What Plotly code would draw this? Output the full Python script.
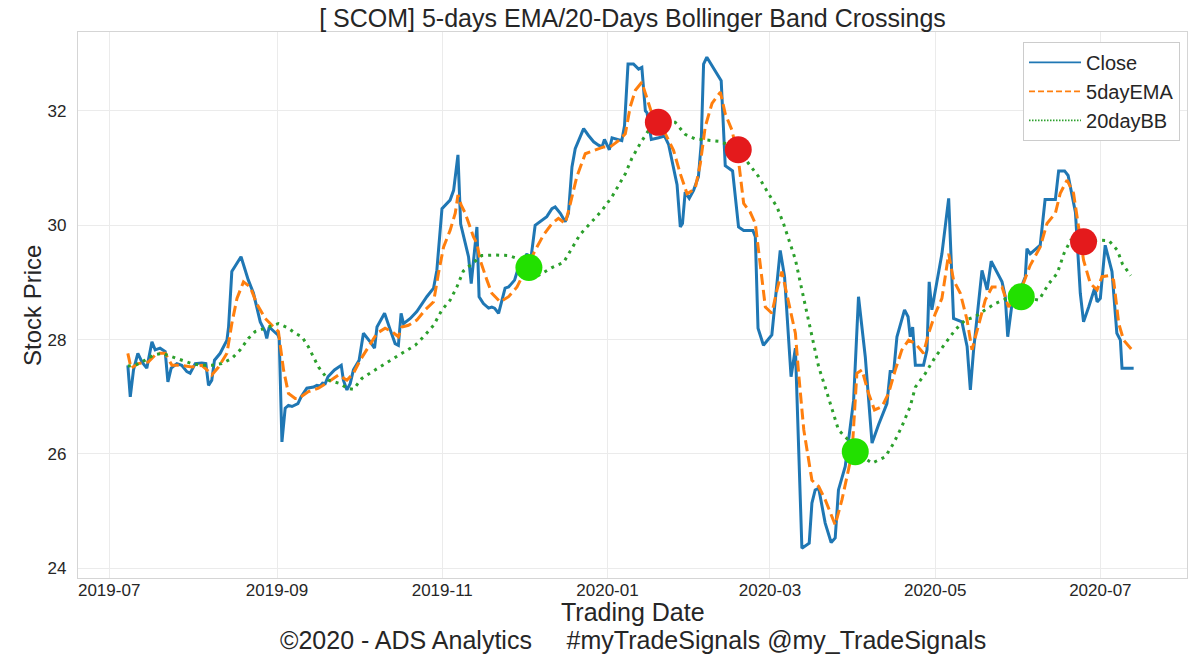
import pandas as pd
import plotly.graph_objects as go

START = pd.Timestamp("2019-07-01")

# ---- data (day offsets from START, price) ----
close_day = [6.9, 7.8, 9.0, 10.6, 12.1, 13.9, 15.8, 17.0, 18.8, 20.7, 21.7, 22.9, 25.0, 26.8, 28.7, 29.9,
             31.8, 34.2, 35.7, 36.7, 37.9, 38.9, 41.0, 43.5, 44.1, 45.3, 48.7, 51.4, 53.3, 55.8, 57.6, 58.2,
             59.1, 62.3, 62.8, 63.8, 65.0, 66.2, 67.5, 69.7, 70.9, 73.0, 75.5, 76.7, 77.9, 78.8, 79.8, 80.8,
             83.2, 84.5, 85.7, 86.5, 87.8, 89.0, 90.2, 92.3, 93.9, 96.4, 98.0, 98.9, 101.7, 103.8, 105.6,
             106.8, 107.8, 108.7, 111.2, 113.6, 115.5, 117.3, 119.8, 121.0, 122.9, 124.1, 125.9, 127.2,
             128.8, 129.8, 130.8, 132.7, 133.7, 134.5, 135.8, 136.6, 138.2, 140.1, 141.3, 142.3, 143.8,
             146.2, 147.5, 149.7, 151.2, 154.3, 155.5, 157.3, 160.0, 161.6, 163.5, 164.7, 166.6, 168.4,
             169.6, 170.9, 172.1, 175.2, 177.0, 178.9, 180.7, 182.0, 182.9, 184.7, 185.7, 187.5, 189.3,
             190.3, 191.6, 193.6, 195.5, 196.7, 198.0, 198.6, 200.2, 202.9, 205.1, 206.6, 209.7, 210.9,
             211.7, 212.7, 214.2, 215.8, 217.6, 218.6, 219.5, 220.7, 223.5, 226.0, 227.5, 230.2, 232.4,
             234.3, 237.7, 238.6, 239.6, 241.6, 244.7, 247.8, 249.4, 251.8, 253.4, 255.8, 258.5, 259.5,
             260.7, 262.0, 264.4, 266.6, 268.1, 269.3, 271.8, 274.9, 276.7, 279.2, 281.7, 284.1, 287.2,
             288.4, 289.7, 290.9, 293.7, 295.0, 295.8, 296.7, 297.7, 300.7, 302.0, 302.8, 303.8, 307.5,
             310.0, 311.8, 314.9, 316.8, 318.0, 319.2, 322.3, 324.2, 325.7, 329.7, 330.9, 331.8, 333.4,
             336.4, 338.3, 338.9, 340.1, 343.8, 345.6, 349.4, 350.6, 352.8, 354.1, 356.8, 358.6, 359.8,
             361.7, 363.9, 364.8, 366.0, 367.8, 370.3, 372.1, 373.4, 374.0, 378.3]
close_val = [27.55, 27.00, 27.47, 27.76, 27.61, 27.50, 27.96, 27.82, 27.85, 27.79, 27.26, 27.50, 27.58,
             27.55, 27.44, 27.41, 27.58, 27.59, 27.58, 27.20, 27.29, 27.64, 27.76, 27.99, 28.22, 29.19,
             29.45, 29.04, 28.81, 28.31, 28.14, 28.02, 28.22, 28.08, 28.02, 26.21, 26.80, 26.85, 26.83,
             26.88, 27.00, 27.15, 27.17, 27.20, 27.19, 27.24, 27.23, 27.35, 27.47, 27.52, 27.55, 27.29,
             27.12, 27.23, 27.47, 27.64, 28.11, 27.96, 27.85, 28.22, 28.46, 28.17, 27.93, 27.90, 28.46,
             28.28, 28.37, 28.49, 28.63, 28.75, 28.90, 29.21, 30.29, 30.35, 30.44, 30.61, 31.23, 30.02,
             29.81, 29.45, 28.98, 29.33, 29.97, 28.75, 28.63, 28.55, 28.57, 28.55, 28.46, 28.90, 28.92,
             29.04, 29.27, 29.50, 29.33, 30.00, 30.09, 30.15, 30.29, 30.32, 30.21, 30.06, 30.21, 31.02,
             31.34, 31.69, 31.57, 31.46, 31.40, 31.37, 31.50, 31.32, 31.53, 31.51, 31.48, 31.74, 32.82,
             32.82, 32.73, 32.76, 32.00, 31.97, 31.50, 31.53, 31.56, 31.41, 30.71, 29.97, 30.03, 30.58,
             30.47, 30.61, 30.85, 31.42, 32.82, 32.94, 32.73, 32.53, 31.04, 30.95, 29.97, 29.91, 29.91,
             29.80, 28.20, 27.90, 28.08, 29.56, 29.10, 27.35, 27.85, 24.35, 24.44, 25.14, 25.37, 25.40,
             24.79, 24.45, 24.53, 25.37, 25.78, 26.94, 28.75, 27.70, 26.19, 26.51, 26.88, 27.44, 27.44,
             28.05, 28.52, 28.40, 28.05, 28.22, 27.55, 27.55, 27.82, 29.01, 28.52, 29.50, 30.47, 28.37,
             28.31, 27.88, 27.12, 27.82, 29.21, 28.87, 29.37, 29.01, 28.75, 28.05, 28.63, 28.87, 29.10,
             29.59, 29.50, 29.65, 30.45, 30.45, 30.95, 30.95, 30.87, 30.23, 28.81, 28.31, 28.57, 28.90,
             28.66, 28.72, 29.65, 29.19, 28.11, 27.99, 27.50, 27.50]

ema_day = [6.9, 8.1, 10.8, 14.5, 17.6, 20.7, 23.2, 26.8, 30.5, 34.2, 36.1, 37.9, 40.4, 43.5, 45.3, 47.2,
           49.6, 52.1, 54.5, 57.6, 60.1, 62.5, 64.4, 66.2, 68.7, 69.9, 73.6, 77.3, 81.0, 84.7, 87.8, 90.2,
           92.7, 95.8, 98.9, 101.9, 104.4, 106.8, 108.1, 110.5, 113.6, 116.7, 119.8, 121.6, 123.5, 125.9,
           127.8, 128.8, 130.0, 131.5, 132.7, 134.5, 135.8, 137.0, 139.5, 141.3, 144.4, 147.5, 150.6,
           153.6, 157.3, 160.4, 163.5, 165.9, 168.4, 170.3, 172.7, 175.8, 179.5, 182.6, 185.0, 188.1,
           190.6, 192.4, 194.3, 196.7, 199.2, 201.6, 205.4, 208.4, 210.9, 213.4, 216.4, 218.3, 220.1,
           222.6, 225.7, 227.5, 230.0, 232.4, 234.3, 236.7, 238.6, 240.4, 242.3, 244.7, 246.6, 248.4,
           250.9, 253.4, 254.6, 256.5, 259.5, 262.0, 264.4, 268.1, 270.6, 274.3, 276.1, 278.0, 280.4,
           282.6, 285.4, 287.8, 290.3, 292.7, 295.2, 297.7, 300.7, 302.6, 305.1, 307.5, 310.0, 311.8,
           314.3, 316.8, 318.6, 321.1, 323.5, 326.0, 329.7, 332.1, 337.1, 340.1, 343.8, 346.3, 349.4,
           351.2, 353.7, 356.1, 358.0, 359.8, 362.3, 364.8, 366.6, 369.1, 370.9, 372.8, 374.6, 377.7]
ema_val = [27.76, 27.50, 27.58, 27.61, 27.76, 27.76, 27.55, 27.55, 27.52, 27.55, 27.47, 27.38, 27.52,
           27.76, 28.28, 28.72, 29.01, 28.92, 28.63, 28.37, 28.25, 28.14, 27.47, 27.06, 26.97, 26.97,
           27.09, 27.15, 27.26, 27.38, 27.29, 27.41, 27.64, 27.87, 28.11, 28.20, 28.14, 28.05, 28.22,
           28.25, 28.34, 28.52, 28.66, 29.16, 29.62, 29.91, 30.21, 30.53, 30.35, 30.21, 30.03, 29.80,
           29.68, 29.39, 29.04, 28.81, 28.66, 28.75, 28.92, 29.22, 29.56, 29.83, 30.03, 30.12, 30.03,
           30.38, 30.85, 31.25, 31.31, 31.37, 31.37, 31.48, 31.60, 32.07, 32.36, 32.50, 32.13, 31.78,
           31.60, 31.31, 30.90, 30.55, 30.64, 31.08, 31.72, 32.13, 32.33, 31.95, 31.66, 31.13, 30.38,
           30.23, 30.03, 29.27, 28.57, 28.46, 28.87, 29.19, 28.63, 28.11, 27.40, 26.42, 25.54, 25.43,
           25.20, 24.76, 25.20, 26.01, 27.41, 27.47, 27.06, 26.77, 26.83, 27.06, 27.47, 27.82, 27.99,
           27.93, 27.76, 28.11, 28.46, 28.72, 29.50, 29.04, 28.81, 28.34, 27.82, 28.28, 28.69, 28.92,
           28.92, 28.57, 28.92, 29.30, 29.62, 30.03, 30.21, 30.56, 30.79, 30.56, 29.97, 29.39, 28.98,
           28.87, 29.10, 29.12, 29.04, 28.28, 27.99, 27.82]

bb_day = [6.9, 9.6, 13.3, 16.4, 19.5, 23.2, 26.8, 30.5, 34.2, 37.9, 41.6, 45.3, 48.4, 51.4, 53.9, 57.6,
          62.5, 66.2, 68.7, 71.2, 73.6, 77.3, 81.0, 85.3, 87.8, 90.2, 93.3, 98.2, 103.2, 108.1, 113.0,
          116.7, 119.8, 122.9, 125.9, 128.4, 130.8, 134.5, 137.6, 142.6, 147.5, 151.2, 154.3, 158.5,
          163.5, 167.8, 170.9, 173.9, 177.6, 182.0, 185.7, 188.7, 190.6, 193.0, 196.1, 199.2, 202.9,
          209.0, 212.7, 216.4, 220.1, 225.0, 228.7, 232.4, 236.1, 239.8, 243.5, 246.6, 249.0, 251.5,
          253.4, 255.2, 257.1, 259.5, 262.0, 264.4, 266.9, 269.3, 272.4, 275.5, 281.7, 286.6, 289.7,
          292.7, 295.8, 297.7, 301.4, 305.1, 308.7, 312.4, 316.1, 319.8, 323.5, 327.2, 331.5, 337.1,
          343.3, 347.0, 350.1, 352.6, 355.1, 360.0, 365.5, 369.2, 372.3, 374.1, 377.2]
bb_val = [27.54, 27.55, 27.64, 27.73, 27.76, 27.70, 27.64, 27.58, 27.55, 27.55, 27.58, 27.67, 27.82,
          28.02, 28.14, 28.20, 28.28, 28.20, 28.11, 28.05, 27.87, 27.52, 27.29, 27.23, 27.15, 27.13,
          27.32, 27.47, 27.61, 27.76, 27.90, 28.08, 28.25, 28.52, 28.69, 28.92, 29.20, 29.35, 29.47,
          29.48, 29.47, 29.41, 29.26, 29.12, 29.26, 29.35, 29.61, 29.84, 30.03, 30.26, 30.50, 30.73,
          30.90, 31.17, 31.43, 31.66, 31.81, 31.80, 31.59, 31.51, 31.49, 31.47, 31.41, 31.32, 31.08,
          30.85, 30.55, 30.32, 30.03, 29.68, 29.40, 29.00, 28.57, 28.05, 27.52, 27.17, 26.77, 26.42,
          26.27, 26.04, 25.84, 25.95, 26.19, 26.48, 26.83, 27.17, 27.41, 27.70, 27.93, 28.17, 28.34,
          28.40, 28.52, 28.63, 28.72, 28.75, 28.69, 28.98, 29.16, 29.51, 29.74, 29.71, 29.74, 29.73,
          29.56, 29.33, 29.12]

buy_day = [155.0, 275.5, 336.8]
buy_val = [29.26, 26.04, 28.75]
sell_day = [202.8, 232.3, 359.8]
sell_val = [31.80, 31.32, 29.71]

series_names = ["Close", "5dayEMA", "20dayBB"]


def to_dates(days):
    return START + pd.to_timedelta(days, unit="D")


FONT = "Liberation Sans, Arial, sans-serif"
TXT = "#262626"
COLORS = ["#1f77b4", "#ff7f0e", "#2ca02c"]
DASHES = ["solid", "11px,5px", "3px,5px"]

fig = go.Figure()
for name, days, vals, col, dash in zip(series_names, [close_day, ema_day, bb_day],
                                        [close_val, ema_val, bb_val], COLORS, DASHES):
    fig.add_trace(go.Scatter(x=to_dates(days), y=vals, mode="lines", name=name,
                             showlegend=False, line=dict(color=col, width=3, dash=dash)))

fig.add_trace(go.Scatter(x=to_dates(buy_day), y=buy_val, mode="markers", showlegend=False,
                         marker=dict(color="#22e000", size=27, line=dict(width=0))))
fig.add_trace(go.Scatter(x=to_dates(sell_day), y=sell_val, mode="markers", showlegend=False,
                         marker=dict(color="#e41a1c", size=27, line=dict(width=0))))

# legend entries (thinner sample lines, as in the reference legend)
legend_dashes = ["solid", "6px,3px", "1.5px,1.5px"]
for name, col, dash in zip(series_names, COLORS, legend_dashes):
    fig.add_trace(go.Scatter(x=[None], y=[None], mode="lines", name=name, legendgroup=name,
                             line=dict(color=col, width=1.7, dash=dash)))

fig.update_layout(
    width=1200, height=668,
    margin=dict(l=78, r=13, t=32, b=90),
    paper_bgcolor="white", plot_bgcolor="white",
    font=dict(family=FONT, color=TXT),
    title=dict(text="[ SCOM] 5-days EMA/20-Days Bollinger Band Crossings",
               x=0.5, xref="paper", y=1 - 18 / 668, yref="container", yanchor="middle",
               xanchor="center", font=dict(size=25, color=TXT)),
    showlegend=True,
    legend=dict(x=0.9937, y=0.982, xanchor="right", yanchor="top",
                bgcolor="white", bordercolor="#cccccc", borderwidth=1,
                itemwidth=52, tracegroupgap=0,
                font=dict(size=20, color=TXT)),
    xaxis=dict(type="date", range=["2019-06-19 12:00", "2020-08-02"],
               tick0="2019-07-01", dtick="M2", tickformat="%Y-%m",
               showgrid=True, gridcolor="#ebebeb", gridwidth=1,
               showline=True, mirror=True, linecolor="#d5d5d5", linewidth=1.3,
               ticks="", ticklabelstandoff=-4,
               tickfont=dict(size=17, color=TXT), zeroline=False),
    yaxis=dict(range=[23.83, 33.38], tickvals=[24, 26, 28, 30, 32],
               showgrid=True, gridcolor="#ebebeb", gridwidth=1,
               showline=True, mirror=True, linecolor="#d5d5d5", linewidth=1.3,
               ticks="outside", ticklen=7, tickcolor="rgba(0,0,0,0)",
               tickfont=dict(size=17, color=TXT), zeroline=False),
    annotations=[
        dict(text="Trading Date", xref="paper", yref="paper", x=0.5, y=-0.0623,
             xanchor="center", yanchor="middle", showarrow=False,
             font=dict(size=25, color=TXT)),
        dict(text="\u00a92020 - ADS Analytics\u00a0\u00a0\u00a0\u00a0\u00a0#myTradeSignals @my_TradeSignals",
             xref="paper", yref="paper", x=0.5, y=-0.1136,
             xanchor="center", yanchor="middle", showarrow=False,
             font=dict(size=25, color=TXT)),
        dict(text="Stock Price", xref="paper", yref="paper", x=-0.0415, y=0.5,
             xanchor="center", yanchor="middle", textangle=-90, showarrow=False,
             font=dict(size=24, color=TXT)),
    ],
)

fig.write_html("out.html")
